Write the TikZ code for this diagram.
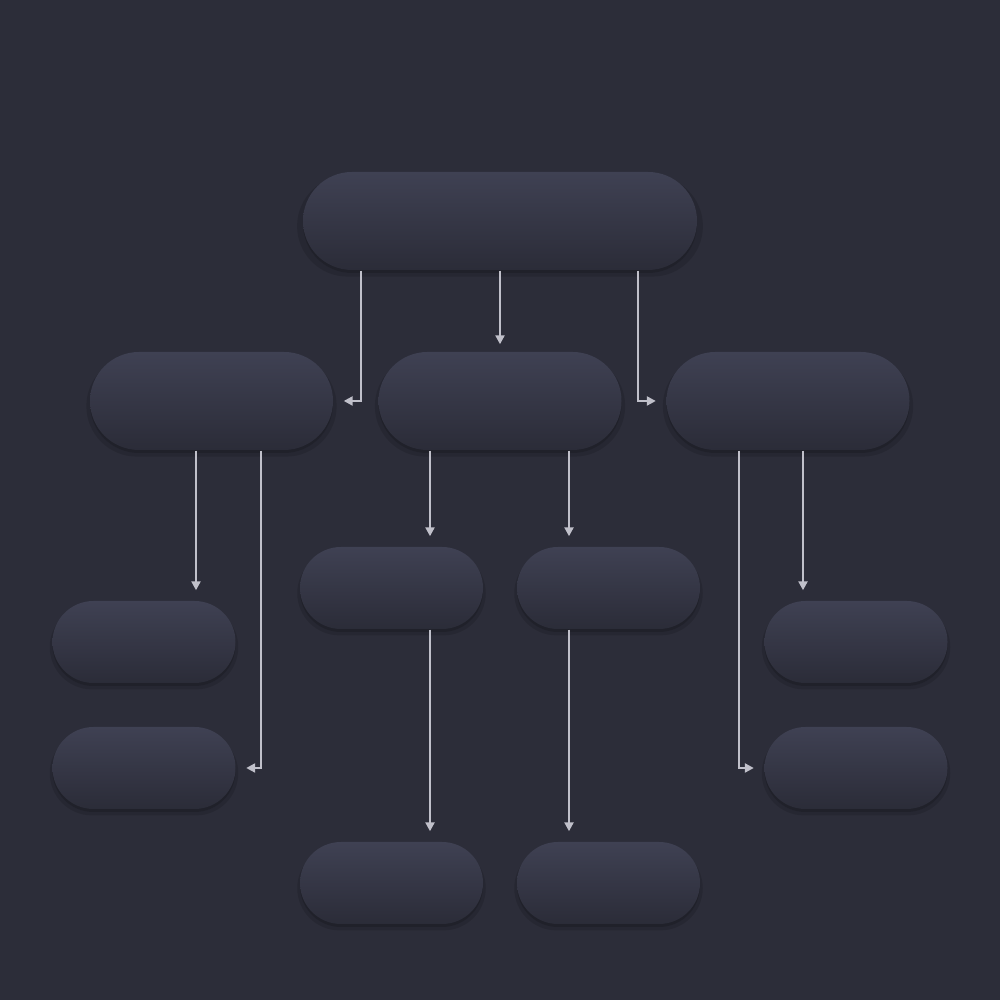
\documentclass[tikz,border=0pt]{standalone}
\usepackage{xcolor}
\usepackage{tikz}
\usetikzlibrary{shapes.misc,shadows,arrows.meta,calc}
\definecolor{bgcol}{RGB}{44,45,57}
\definecolor{pilltop}{RGB}{63,65,83}
\definecolor{pillbot}{RGB}{43,44,56}
\definecolor{linkcol}{RGB}{192,192,202}
\tikzset{
  pill/.style={rounded rectangle, inner sep=0pt, draw=none,
    top color=pilltop, bottom color=pillbot,
    general shadow={shadow xshift=0cm, shadow yshift=-0.05cm, opacity=0.12, fill=black, shadow scale=1.03},
    drop shadow={shadow xshift=0cm, shadow yshift=-0.03cm, opacity=0.15, fill=black}},
  bigpill/.style={pill, minimum width=2.43cm, minimum height=0.98cm},
  smallpill/.style={pill, minimum width=1.83cm, minimum height=0.82cm},
  link/.style={draw=linkcol, line width=0.25mm, shorten >=0.1cm,
    -{Triangle[length=0.9mm,width=0.9mm]}}
}
\begin{document}
\begin{tikzpicture}
        % background
        \fill[bgcol] (0,0) rectangle (10,10);
        \useasboundingbox (0,0) rectangle (10,10);

        % boxes
        \node[pill, minimum width=3.94cm, minimum height=0.98cm] (top) at (5.00,7.79) {};
        \node[bigpill] (lft) at (2.115,5.99) {};
        \node[bigpill] (mid) at (5.00,5.99) {};
        \node[bigpill] (rgt) at (7.88,5.99) {};

        \node[smallpill] (ma) at (3.915,4.12) {};
        \node[smallpill] (mb) at (6.085,4.12) {};
        \node[smallpill] (lc1) at (1.44,3.58) {};
        \node[smallpill] (lc2) at (1.44,2.32) {};
        \node[smallpill] (rc1) at (8.56,3.58) {};
        \node[smallpill] (rc2) at (8.56,2.32) {};
        \node[smallpill] (ba) at (3.915,1.17) {};
        \node[smallpill] (bb) at (6.085,1.17) {};

        % coordinates
        \coordinate (t1) at ([xshift=-1.39cm]top.south);
        \coordinate (t3) at ([xshift=1.38cm]top.south);
        \coordinate (l1) at ([xshift=-0.155cm]lft.south);
        \coordinate (l2) at ([xshift=0.495cm]lft.south);
        \coordinate (m1) at ([xshift=-0.70cm]mid.south);
        \coordinate (m2) at ([xshift=0.69cm]mid.south);
        \coordinate (a1) at ([xshift=0.385cm]ma.south);
        \coordinate (b1) at ([xshift=-0.395cm]mb.south);
        \coordinate (r1) at ([xshift=-0.49cm]rgt.south);
        \coordinate (r2) at ([xshift=0.15cm]rgt.south);

        % arrows
        \draw[link] (t1) |- (lft.east);
        \draw[link, shorten >=0.07cm] (top.south) -- (mid.north);
        \draw[link] (t3) |- (rgt.west);

        \draw[link] (l1) -- (l1 |- lc1.north);
        \draw[link] (l2) |- (lc2.east);
        \draw[link] (m1) -- (m1 |- ma.north);
        \draw[link] (m2) -- (m2 |- mb.north);
        \draw[link] (a1) -- (a1 |- ba.north);
        \draw[link] (b1) -- (b1 |- bb.north);
        \draw[link] (r1) |- (rc2.west);
        \draw[link] (r2) -- (r2 |- rc1.north);

\end{tikzpicture}
\end{document}
